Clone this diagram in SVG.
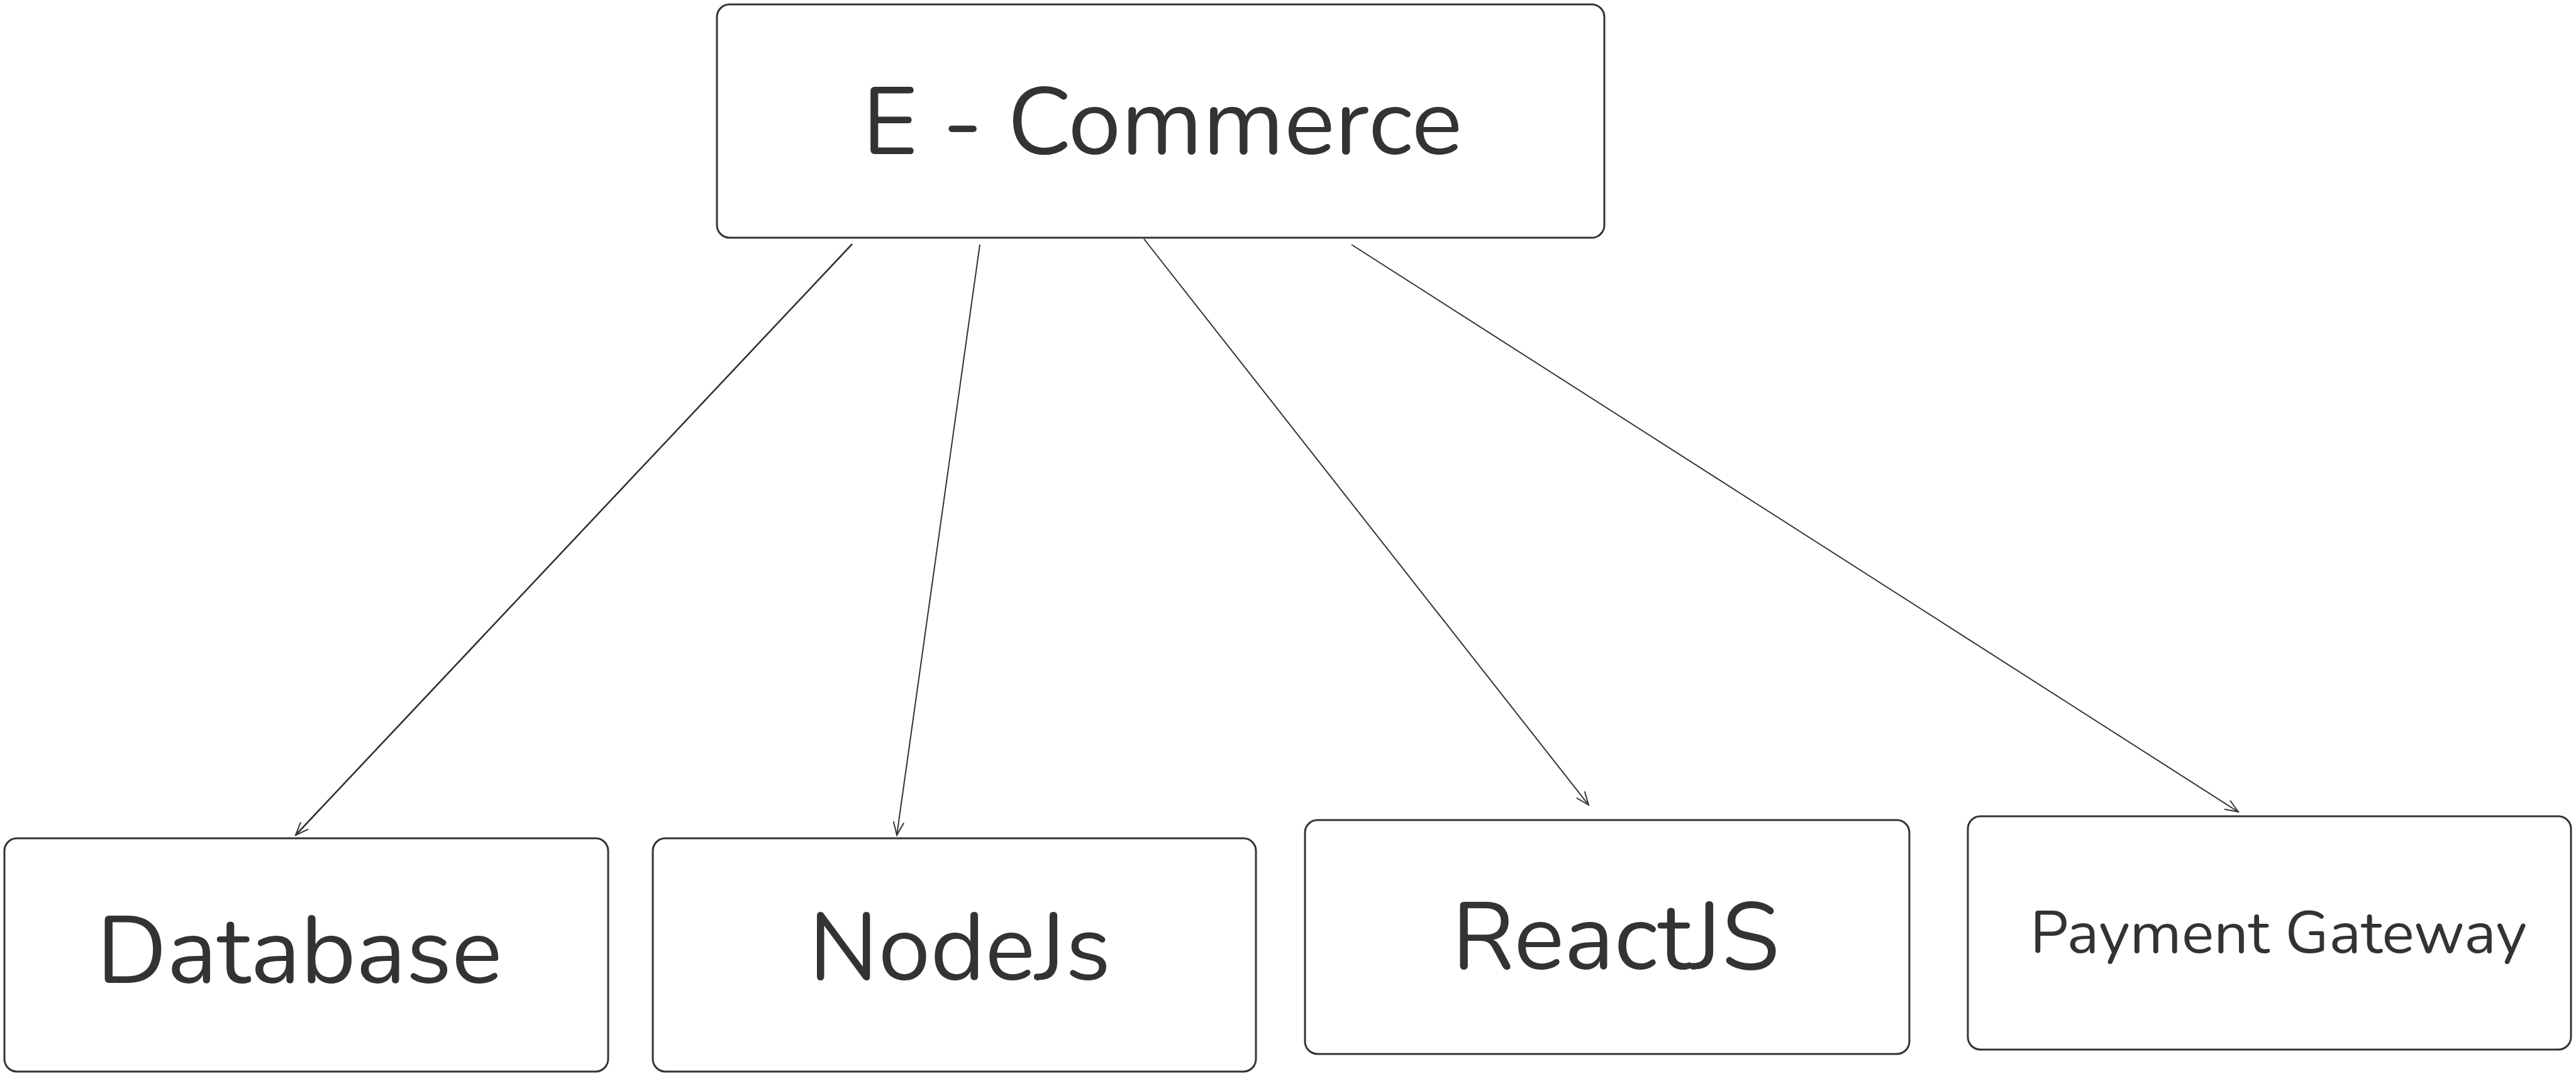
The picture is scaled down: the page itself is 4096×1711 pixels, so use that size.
<svg xmlns="http://www.w3.org/2000/svg" width="4096" height="1711" viewBox="0 0 4096 1711">
<style>
.box{fill:#fff;stroke:#333;stroke-width:3}
.lbl{font-family:"Nunito","Open Sans","Liberation Sans",sans-serif;fill:#333;text-anchor:middle}
.big{font-size:152px}
.small{font-size:94px}
.conn{fill:none;stroke:#333;stroke-width:2}
</style>
<defs>
<marker id="arr" viewBox="0 0 24 24" refX="22" refY="12" markerWidth="24" markerHeight="24" markerUnits="userSpaceOnUse" orient="auto">
<path d="M2,4 L22,12 L2,20" fill="none" stroke="#333" stroke-width="2" stroke-linecap="round"/>
</marker>
</defs>
<rect width="4096" height="1711" fill="#fff"/>
<g id="connectors">
<line class="conn" style="stroke-width:2.6" x1="1355" y1="388" x2="470" y2="1328" marker-end="url(#arr)"/>
<line class="conn" x1="1558" y1="389" x2="1426" y2="1328" marker-end="url(#arr)"/>
<line class="conn" x1="1819" y1="380" x2="2526" y2="1280" marker-end="url(#arr)"/>
<line class="conn" x1="2149" y1="389" x2="3559" y2="1291" marker-end="url(#arr)"/>
</g>
<g id="ecommerce">
<rect class="box" x="1140" y="7" width="1411" height="371" rx="20"/>
<text class="lbl big" x="1848" y="245" textLength="954" lengthAdjust="spacingAndGlyphs">E - Commerce</text>
</g>
<g id="database">
<rect class="box" x="7" y="1333" width="960" height="371" rx="20"/>
<text class="lbl big" x="476" y="1563" textLength="645" lengthAdjust="spacingAndGlyphs">Database</text>
</g>
<g id="nodejs">
<rect class="box" x="1038" y="1333" width="959" height="371" rx="20"/>
<text class="lbl big" x="1526" y="1558" textLength="480" lengthAdjust="spacingAndGlyphs">NodeJs</text>
</g>
<g id="reactjs">
<rect class="box" x="2075" y="1304" width="961" height="372" rx="20"/>
<text class="lbl big" x="2569" y="1541" textLength="521" lengthAdjust="spacingAndGlyphs">ReactJS</text>
</g>
<g id="payment">
<rect class="box" x="3129" y="1298" width="959" height="371" rx="20"/>
<text class="lbl small" x="3623" y="1515" textLength="790" lengthAdjust="spacingAndGlyphs">Payment Gateway</text>
</g>
</svg>
